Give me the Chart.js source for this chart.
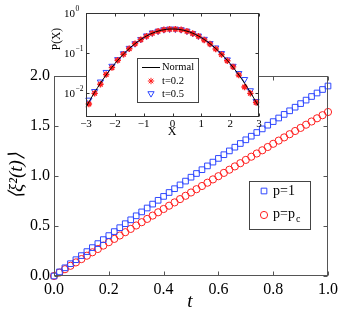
<!DOCTYPE html>
<html>
<head>
<meta charset="UTF-8">
<script src="https://cdn.jsdelivr.net/npm/chart.js"></script>
<style>
  body { margin: 0; background: #fff; }
  #wrap { position: relative; width: 342px; height: 316px; }
  #mainChart { position: absolute; left: 0; top: 0; }
  #insetChart { position: absolute; left: 50px; top: 0; }
</style>
</head>
<body>
<div id="wrap">
  <canvas id="mainChart" width="342" height="316" style="width:342px;height:316px"></canvas>
  <canvas id="insetChart" width="220" height="140" style="width:220px;height:140px"></canvas>
</div>
<script>
// main plot: mean square displacement vs t
const tVals = [0, 0.02, 0.04, 0.06, 0.08, 0.10, 0.12, 0.14, 0.16, 0.18, 0.20, 0.22, 0.24, 0.26, 0.28, 0.30,
  0.32, 0.34, 0.36, 0.38, 0.40, 0.42, 0.44, 0.46, 0.48, 0.50, 0.52, 0.54, 0.56, 0.58, 0.60, 0.62, 0.64, 0.66,
  0.68, 0.70, 0.72, 0.74, 0.76, 0.78, 0.80, 0.82, 0.84, 0.86, 0.88, 0.90, 0.92, 0.94, 0.96, 0.98, 1.00];
const msdP1 = [0, 0.041, 0.082, 0.123, 0.163, 0.204, 0.244, 0.284, 0.324, 0.364, 0.404, 0.444, 0.483, 0.523,
  0.562, 0.602, 0.641, 0.680, 0.719, 0.757, 0.796, 0.835, 0.873, 0.911, 0.949, 0.988, 1.025, 1.063, 1.101,
  1.139, 1.176, 1.213, 1.251, 1.288, 1.325, 1.362, 1.398, 1.435, 1.471, 1.508, 1.544, 1.580, 1.616, 1.652,
  1.688, 1.724, 1.759, 1.795, 1.830, 1.865, 1.900];
const msdPc = [0, 0.034, 0.068, 0.102, 0.136, 0.169, 0.203, 0.237, 0.270, 0.304, 0.338, 0.371, 0.405, 0.438,
  0.471, 0.505, 0.538, 0.571, 0.604, 0.637, 0.670, 0.703, 0.736, 0.769, 0.802, 0.835, 0.868, 0.900, 0.933,
  0.966, 0.998, 1.031, 1.063, 1.096, 1.128, 1.161, 1.193, 1.225, 1.257, 1.290, 1.322, 1.354, 1.386, 1.418,
  1.450, 1.481, 1.513, 1.545, 1.577, 1.608, 1.640];
const mainTicksX = [0, 0.2, 0.4, 0.6, 0.8, 1.0];
const mainTicksY = [0, 0.5, 1.0, 1.5, 2.0];

// inset: distribution P(X)
const normalX = [-3, -2.8, -2.6, -2.4, -2.2, -2, -1.8, -1.6, -1.4, -1.2, -1, -0.8, -0.6, -0.4, -0.2, 0,
  0.2, 0.4, 0.6, 0.8, 1, 1.2, 1.4, 1.6, 1.8, 2, 2.2, 2.4, 2.6, 2.8, 3];
const normalP = [0.00443, 0.0079, 0.0136, 0.0224, 0.0355, 0.0540, 0.0790, 0.1109, 0.1497, 0.1942, 0.2420,
  0.2897, 0.3332, 0.3683, 0.3910, 0.3989, 0.3910, 0.3683, 0.3332, 0.2897, 0.2420, 0.1942, 0.1497, 0.1109,
  0.0790, 0.0540, 0.0355, 0.0224, 0.0136, 0.0079, 0.00443];
const binX = [-2.9, -2.7, -2.5, -2.3, -2.1, -1.9, -1.7, -1.5, -1.3, -1.1, -0.9, -0.7, -0.5, -0.3, -0.1,
  0.1, 0.3, 0.5, 0.7, 0.9, 1.1, 1.3, 1.5, 1.7, 1.9, 2.1, 2.3, 2.5, 2.7, 2.9];
const pT02 = [0.0053, 0.0098, 0.0165, 0.029, 0.043, 0.066, 0.093, 0.128, 0.170, 0.216, 0.262, 0.310, 0.350,
  0.380, 0.395, 0.395, 0.382, 0.350, 0.308, 0.262, 0.212, 0.168, 0.126, 0.092, 0.064, 0.045, 0.028, 0.0141,
  0.0098, 0.0058];
const pT05 = [0.0067, 0.011, 0.019, 0.033, 0.047, 0.069, 0.097, 0.132, 0.172, 0.220, 0.270, 0.320, 0.355,
  0.385, 0.400, 0.398, 0.385, 0.355, 0.310, 0.268, 0.222, 0.174, 0.135, 0.098, 0.068, 0.047, 0.031, 0.022,
  0.0115, 0.0062];
const insetTicksX = [-3, -2, -1, 0, 1, 2, 3];
const insetTicksY = [0.01, 0.1, 1];

const SERIF = '"Liberation Serif", "Times New Roman", serif';
const BLUE = '#2f48ff';
const RED = '#ff1f1f';
const AXIS = '#555';

function pts(xs, ys) { return xs.map((x, i) => ({ x: x, y: ys[i] })); }

function marker(ctx, style, r, x, y, color, rot) {
  ctx.save();
  ctx.strokeStyle = color;
  ctx.fillStyle = 'rgba(0,0,0,0)';
  ctx.lineWidth = 1;
  Chart.helpers.drawPoint(ctx, { pointStyle: style, radius: r, rotation: rot || 0, borderWidth: 1 }, x, y);
  ctx.restore();
}

// box + inward ticks, MATLAB style
function drawFrame(chart, len, color) {
  const { ctx, chartArea: a, scales } = chart;
  const L = Math.round(a.left) + 0.5, R = Math.round(a.right) - 0.5;
  const T = Math.round(a.top) + 0.5, B = Math.round(a.bottom) - 0.5;
  ctx.save();
  ctx.strokeStyle = color;
  ctx.lineWidth = 1;
  ctx.strokeRect(L, T, R - L, B - T);
  ctx.beginPath();
  scales.x.ticks.forEach(t => {
    const px = Math.round(scales.x.getPixelForValue(t.value)) + 0.5;
    ctx.moveTo(px, B); ctx.lineTo(px, B - len);
    ctx.moveTo(px, T); ctx.lineTo(px, T + len);
  });
  scales.y.ticks.forEach(t => {
    const py = Math.round(scales.y.getPixelForValue(t.value)) + 0.5;
    ctx.moveTo(L, py); ctx.lineTo(L + len, py);
    ctx.moveTo(R, py); ctx.lineTo(R - len, py);
  });
  ctx.stroke();
  ctx.restore();
}

const mainDeco = {
  id: 'mainDeco',
  afterDatasetsDraw(chart) {
    drawFrame(chart, 4, AXIS);
    const ctx = chart.ctx;
    ctx.save();
    ctx.fillStyle = '#000';
    // axis titles
    ctx.font = 'italic 19px ' + SERIF;
    ctx.textAlign = 'center';
    ctx.textBaseline = 'middle';
    ctx.fillText('t', 190, 302);
    ctx.translate(17, 176);
    ctx.rotate(-Math.PI / 2);
    ctx.fillText('\u27E8\u03BE\u00B2(t)\u27E9', 0, 0);
    ctx.restore();

    // legend
    ctx.save();
    ctx.strokeStyle = '#444';
    ctx.lineWidth = 1;
    ctx.fillStyle = '#fff';
    ctx.fillRect(249.5, 181.5, 61, 48);
    ctx.strokeRect(249.5, 181.5, 61, 48);
    marker(ctx, 'rect', 4, 264, 191, BLUE);
    marker(ctx, 'circle', 3.6, 264, 215, RED);
    ctx.fillStyle = '#000';
    ctx.textBaseline = 'middle';
    ctx.textAlign = 'left';
    ctx.font = '14px ' + SERIF;
    ctx.fillText('p=1', 273, 191);
    ctx.fillText('p=p', 273, 214);
    const w = ctx.measureText('p=p').width;
    ctx.font = '10px ' + SERIF;
    ctx.fillText('c', 273 + w + 1, 219);
    ctx.restore();
  }
};

new Chart(document.getElementById('mainChart'), {
  type: 'scatter',
  data: {
    datasets: [
      { label: 'p=1', data: pts(tVals, msdP1), pointStyle: 'rect', pointRadius: 4, borderColor: BLUE,
        backgroundColor: 'rgba(0,0,0,0)', borderWidth: 1, showLine: false, clip: false },
      { label: 'p=pc', data: pts(tVals, msdPc), pointStyle: 'circle', pointRadius: 3.6, borderColor: RED,
        backgroundColor: 'rgba(0,0,0,0)', borderWidth: 1, showLine: false, clip: false }
    ]
  },
  options: {
    responsive: false,
    animation: false,
    layout: { padding: { top: 76, right: 13, left: 0, bottom: 0 } },
    plugins: { legend: { display: false }, tooltip: { enabled: false } },
    scales: {
      x: {
        type: 'linear', min: 0, max: 1,
        afterBuildTicks: s => { s.ticks = mainTicksX.map(v => ({ value: v })); },
        afterFit: s => { s.height = 40; },
        grid: { display: false, drawTicks: false },
        border: { display: false },
        ticks: { callback: v => v.toFixed(1), color: '#000', font: { family: SERIF, size: 16 }, padding: 4, maxRotation: 0 }
      },
      y: {
        type: 'linear', min: 0, max: 2,
        afterBuildTicks: s => { s.ticks = mainTicksY.map(v => ({ value: v })); },
        afterFit: s => { s.width = 54; },
        grid: { display: false, drawTicks: false },
        border: { display: false },
        ticks: { callback: v => v.toFixed(1), color: '#000', font: { family: SERIF, size: 16 }, padding: 4 }
      }
    }
  },
  plugins: [mainDeco]
});

const insetDeco = {
  id: 'insetDeco',
  beforeDatasetsDraw(chart) {
    const { ctx, chartArea: a } = chart;
    ctx.save();
    ctx.fillStyle = '#fff';
    ctx.fillRect(a.left, a.top, a.right - a.left, a.bottom - a.top);
    ctx.restore();
  },
  afterDatasetsDraw(chart) {
    drawFrame(chart, 3, '#333');
    const { ctx, chartArea: a, scales } = chart;
    ctx.save();
    ctx.fillStyle = '#000';
    // y tick labels 10^n
    ctx.textBaseline = 'middle';
    insetTicksY.forEach(v => {
      const py = scales.y.getPixelForValue(v);
      const e = Math.round(Math.log10(v));
      ctx.font = '11px ' + SERIF;
      ctx.textAlign = 'right';
      ctx.fillText('10', 25, py + 1);
      ctx.font = '7.5px ' + SERIF;
      ctx.textAlign = 'left';
      ctx.fillText(e < 0 ? '\u2212' + (-e) : '' + e, 25.5, py - 4);
    });
    // titles
    ctx.font = '12px ' + SERIF;
    ctx.textAlign = 'center';
    ctx.fillText('X', 122, 132);
    ctx.save();
    ctx.translate(7, 39);
    ctx.rotate(-Math.PI / 2);
    ctx.font = '11.5px ' + SERIF;
    ctx.fillText('P(X)', 0, 0);
    ctx.restore();

    // legend
    ctx.strokeStyle = '#444';
    ctx.lineWidth = 1;
    ctx.fillStyle = '#fff';
    ctx.fillRect(87.5, 58.5, 61, 44);
    ctx.strokeRect(87.5, 58.5, 61, 44);
    ctx.strokeStyle = '#000';
    ctx.beginPath();
    ctx.moveTo(92, 67.5); ctx.lineTo(110, 67.5);
    ctx.stroke();
    marker(ctx, 'star', 3.2, 101, 81, RED);
    marker(ctx, 'triangle', 3.6, 101, 93.5, BLUE, 180);
    ctx.fillStyle = '#000';
    ctx.font = '10.5px ' + SERIF;
    ctx.textAlign = 'left';
    ctx.textBaseline = 'middle';
    ctx.fillText('Normal', 112, 67);
    ctx.fillText('t=0.2', 112, 81);
    ctx.fillText('t=0.5', 112, 94);
    ctx.restore();
  }
};

new Chart(document.getElementById('insetChart'), {
  type: 'scatter',
  data: {
    datasets: [
      { label: 'Normal', data: pts(normalX, normalP), showLine: true, borderColor: '#000', borderWidth: 1,
        pointRadius: 0, tension: 0.3, clip: false },
      { label: 't=0.2', data: pts(binX, pT02), pointStyle: 'star', pointRadius: 3.2, borderColor: RED,
        backgroundColor: 'rgba(0,0,0,0)', borderWidth: 1.4, showLine: false, clip: false },
      { label: 't=0.5', data: pts(binX, pT05), pointStyle: 'triangle', pointRotation: 180, pointRadius: 3.6,
        borderColor: BLUE, backgroundColor: 'rgba(0,0,0,0)', borderWidth: 1, showLine: false, clip: false }
    ]
  },
  options: {
    responsive: false,
    animation: false,
    layout: { padding: { top: 13, right: 11, left: 0, bottom: 0 } },
    plugins: { legend: { display: false }, tooltip: { enabled: false } },
    scales: {
      x: {
        type: 'linear', min: -3, max: 3,
        afterBuildTicks: s => { s.ticks = insetTicksX.map(v => ({ value: v })); },
        afterFit: s => { s.height = 23; },
        grid: { display: false, drawTicks: false },
        border: { display: false },
        ticks: { callback: v => v < 0 ? '\u2212' + (-v) : '' + v, color: '#000', font: { family: SERIF, size: 11 }, padding: 1, maxRotation: 0 }
      },
      y: {
        type: 'logarithmic', min: 0.00251, max: 1,
        afterBuildTicks: s => { s.ticks = insetTicksY.map(v => ({ value: v })); },
        afterFit: s => { s.width = 36; },
        grid: { display: false, drawTicks: false },
        border: { display: false },
        ticks: { display: false }
      }
    }
  },
  plugins: [insetDeco]
});
</script>
</body>
</html>
